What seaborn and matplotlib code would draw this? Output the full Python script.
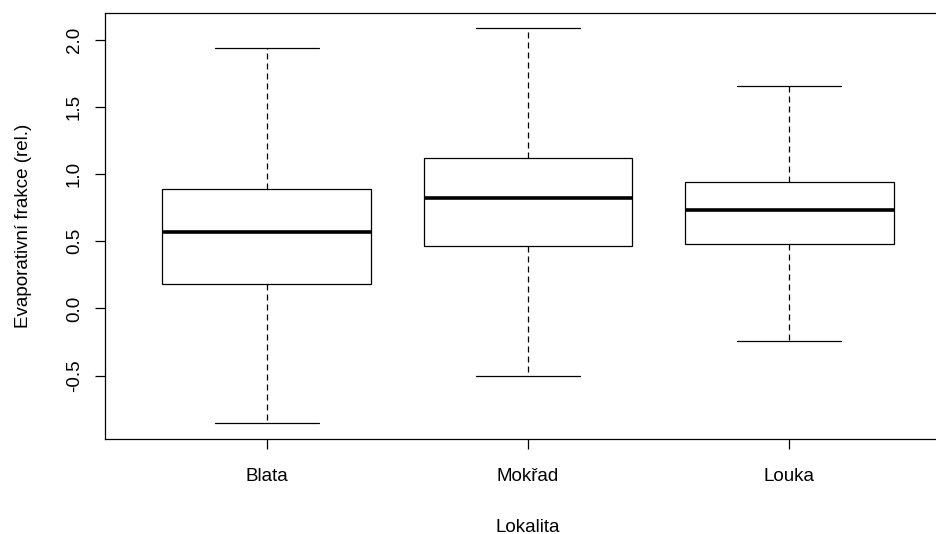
import pandas as pd
import matplotlib
matplotlib.use("Agg")
import matplotlib.pyplot as plt
import seaborn as sns

# five-number summaries (min, Q1, median, Q3, max)
lokality = ["Blata", "Mokřad", "Louka"]
blata = [-0.851, 0.179, 0.567, 0.888, 1.940]
mokrad = [-0.500, 0.463, 0.823, 1.117, 2.090]
louka = [-0.239, 0.478, 0.731, 0.940, 1.657]
y_ticks = [-0.5, 0.0, 0.5, 1.0, 1.5, 2.0]

df = pd.DataFrame({
    "Lokalita": [lokality[0]] * 5 + [lokality[1]] * 5 + [lokality[2]] * 5,
    "ef": blata + mokrad + louka,
})

sns.set_style("white")
plt.rcParams["font.family"] = ["Liberation Sans", "DejaVu Sans"]
plt.rcParams["text.color"] = "black"
plt.rcParams["axes.labelcolor"] = "black"
plt.rcParams["xtick.color"] = "black"
plt.rcParams["ytick.color"] = "black"

fig = plt.figure(figsize=(9.37, 5.34), dpi=100)
# plot region runs past the right edge, like the cropped original
ax = fig.add_axes([105 / 937, 1 - 439 / 534, 846 / 937, 426 / 534])

sns.boxplot(data=df, x="Lokalita", y="ef", order=lokality, ax=ax,
            whis=(0, 100), width=0.8, color="white", linecolor="black",
            linewidth=0.9, fliersize=0,
            medianprops=dict(linewidth=2.6, color="black"),
            whiskerprops=dict(linestyle=(0, (4.8, 3.2)), color="black"),
            capprops=dict(color="black"))

ax.set_xlim(-0.62, 2.62)
ax.set_ylim(-0.972, 2.200)
ax.set_yticks(y_ticks)
ax.set_yticklabels([f"{v:.1f}" for v in y_ticks], rotation=90, va="center")
ax.tick_params(axis="both", which="both", length=7, width=0.9, color="black",
               labelcolor="black", labelsize=13.5, direction="out",
               left=True, bottom=True)
ax.tick_params(axis="x", pad=14)
ax.tick_params(axis="y", pad=9)

ax.set_xlabel("Lokalita", fontsize=13.5, labelpad=24)
ax.set_ylabel("Evaporativní frakce (rel.)", fontsize=13.5, labelpad=24)

for s in ax.spines.values():
    s.set_color("black")
    s.set_linewidth(0.9)
    s.set_visible(True)

fig.savefig("out.png", dpi=100)
